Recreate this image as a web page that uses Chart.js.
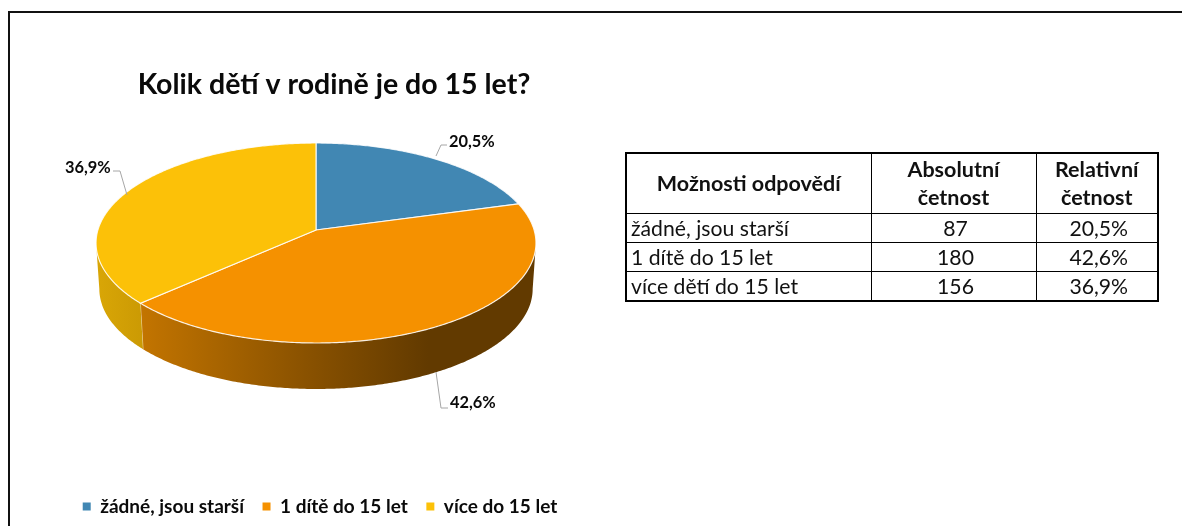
<!DOCTYPE html>
<html lang="cs"><head><meta charset="utf-8">
<script src="https://cdn.jsdelivr.net/npm/chart.js@4"></script>
<style>
html,body{margin:0;padding:0;background:#fff;width:1182px;height:526px;overflow:hidden}
#frame{position:absolute;left:8px;top:11px;right:0;bottom:0;border-top:2px solid #111;border-left:2px solid #111}
#c{position:absolute;left:0;top:0}
table{position:absolute;left:625px;top:152px;width:532px;height:147px;border-collapse:collapse;table-layout:fixed;
 font-family:Lato,sans-serif;font-size:21.2px;color:#111;border:2px solid #000;line-height:28px}
td,th{border:1px solid #000;padding:0 0 0 4px;text-align:center;font-weight:400;white-space:nowrap}
th{font-weight:700;padding:0;font-size:21.5px}
td:first-child{text-align:left}
</style></head><body>
<div id="frame"></div>
<canvas id="c" width="640" height="526"></canvas>
<table>
<colgroup><col style="width:245px"><col style="width:165px"><col style="width:122px"></colgroup>
<thead><tr style="height:60px" id="head"></tr></thead><tbody id="body"></tbody></table>
<script>
const chartTitle = "Kolik dětí v rodině je do 15 let?";
const categories = ["žádné, jsou starší", "1 dítě do 15 let", "více do 15 let"];
const absoluteCounts = [87, 180, 156];
const percentLabels = ["20,5%", "42,6%", "36,9%"];
const tableHeaders = ["Možnosti odpovědí", "Absolutní<br>četnost", "Relativní<br>četnost"];
const tableRows = ["žádné, jsou starší", "1 dítě do 15 let", "více dětí do 15 let"];
const tablePercents = ["20,5%", "42,6%", "36,9%"];
const sliceColors = ["#4187B3", "#F59100", "#FCC108"];

document.getElementById('head').innerHTML = tableHeaders.map(h => `<th>${h}</th>`).join('');
document.getElementById('body').innerHTML = tableRows.map((r, i) =>
  `<tr style="height:29px"><td>${r}</td><td>${absoluteCounts[i]}</td><td>${tablePercents[i]}</td></tr>`).join('');

// perspective projection of the unit circle (angle from Chart.js arc elements) onto the page
const P = {cx: 316, apexY: 230, a: 68.4, c: -0.13, d: 218.1, depth: 46, shrink: 0.985};
function proj(ang, lower) {
  const x = Math.cos(ang), y = Math.sin(ang), w = 1 + P.c * y;
  let X = P.d * x / w, Y = (P.apexY + P.a * y) / w;
  if (lower) { X *= P.shrink; Y += P.depth; }
  return [P.cx + X, Y];
}
const wallStops = [
  null,
  [[0, "#C27400"], [0.5, "#8F5500"], [0.97, "#623A00"], [1, "#623A00"]],
  [[0, "#D9A606"], [1, "#CB9A04"]]
];
const wallRange = [[143, 535], [143, 535], [97, 143]];
const leaders = [
  {pts: [[436, 156], [441, 145], [447, 145]], tx: 449, ty: 142},
  {pts: [[436, 372], [441, 408], [448, 408]], tx: 450, ty: 403},
  {pts: [[127, 195], [120, 171], [113, 171]], tx: 65, ty: 168}
];
function arcSteps(s, e) { const n = Math.max(2, Math.ceil((e - s) / 0.01)); return Array.from({length: n + 1}, (_, i) => s + (e - s) * i / n); }

const pie3d = {
  id: 'pie3d',
  afterLayout(chart) {
    const t = chart.titleBlock; t.left += 14; t.right += 14;
  },
  beforeDatasetDraw(chart, args) {
    const ctx = chart.ctx, arcs = chart.getDatasetMeta(args.index).data;
    const w0 = Math.asin(-P.c), visS = w0, visE = Math.PI - w0; // visible front wall
    arcs.forEach((el, i) => {
      let s = el.startAngle, e = el.endAngle;
      const ranges = [[s, e], [s + 2 * Math.PI, e + 2 * Math.PI], [s - 2 * Math.PI, e - 2 * Math.PI]];
      ranges.forEach(([a, b]) => {
        const lo = Math.max(a, visS), hi = Math.min(b, visE);
        if (hi <= lo || !wallStops[i]) return;
        const g = ctx.createLinearGradient(wallRange[i][0], 0, wallRange[i][1], 0);
        if (i === 1) { wallStops[1].forEach(([o, col]) => g.addColorStop(Math.min(1, o * 0.75), col)); g.addColorStop(1, "#623A00"); }
        else wallStops[i].forEach(([o, col]) => g.addColorStop(o, col));
        ctx.beginPath();
        arcSteps(lo, hi).forEach((t, k) => { const p = proj(t); k ? ctx.lineTo(p[0], p[1]) : ctx.moveTo(p[0], p[1]); });
        arcSteps(lo, hi).reverse().forEach(t => { const p = proj(t, true); ctx.lineTo(p[0], p[1]); });
        ctx.closePath(); ctx.fillStyle = g; ctx.fill();
        ctx.strokeStyle = 'rgba(255,255,255,.55)'; ctx.lineWidth = 1;
        if (i === 1) { const p = proj(hi), q = proj(hi, true); ctx.beginPath(); ctx.moveTo(p[0], p[1]); ctx.lineTo(q[0], q[1]); ctx.stroke(); }
      });
    });
    arcs.forEach((el, i) => {
      ctx.beginPath(); ctx.moveTo(P.cx, P.apexY);
      arcSteps(el.startAngle, el.endAngle).forEach(t => { const p = proj(t); ctx.lineTo(p[0], p[1]); });
      ctx.closePath();
      ctx.fillStyle = el.options.backgroundColor; ctx.fill();
      ctx.strokeStyle = 'rgba(255,255,255,.85)'; ctx.lineWidth = 1.2; ctx.stroke();
    });
    return false;
  },
  afterDatasetsDraw(chart) {
    const ctx = chart.ctx;
    ctx.save();
    leaders.forEach((l, i) => {
      ctx.beginPath(); l.pts.forEach((p, k) => k ? ctx.lineTo(p[0], p[1]) : ctx.moveTo(p[0], p[1]));
      ctx.strokeStyle = '#A6A6A6'; ctx.lineWidth = 1; ctx.stroke();
      ctx.fillStyle = '#0a0a0a'; ctx.font = '700 16.4px Lato, sans-serif';
      ctx.textBaseline = 'middle'; ctx.textAlign = 'left';
      ctx.fillText(percentLabels[i], l.tx, l.ty);
    });
    ctx.restore();
  }
};

new Chart(document.getElementById('c'), {
  type: 'pie',
  data: {labels: categories, datasets: [{data: absoluteCounts, backgroundColor: sliceColors, borderWidth: 0}]},
  options: {
    responsive: false, animation: false, devicePixelRatio: 1,
    plugins: {
      tooltip: {enabled: false},
      title: {display: true, text: chartTitle, color: '#0a0a0a', font: {family: 'Lato, sans-serif', size: 28.5, weight: '700'}, padding: {top: 68, bottom: 10}},
      legend: {position: 'bottom', labels: {boxWidth: 8, boxHeight: 8, padding: 18.5, color: '#0a0a0a', font: {family: 'Lato, sans-serif', size: 19, weight: '700'}}}
    }
  },
  plugins: [pie3d]
});
</script>
</body></html>
